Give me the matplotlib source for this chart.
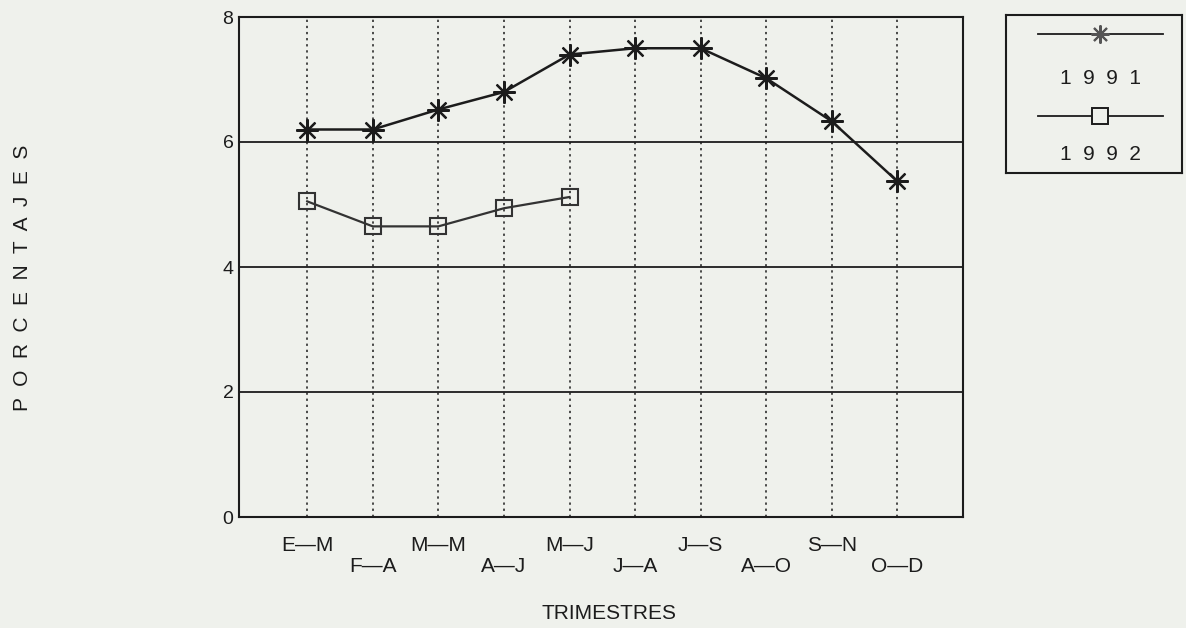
import matplotlib.pyplot as plt
import numpy as np

trimestres = ["E—M", "F—A", "M—M", "A—J", "M—J", "J—A", "J—S", "A—O", "S—N", "O—D"]
v1991 = [6.2, 6.2, 6.52, 6.8, 7.4, 7.5, 7.5, 7.02, 6.33, 5.37]
v1992 = [5.05, 4.65, 4.65, 4.94, 5.12]
yticks = [0, 2, 4, 6, 8]

bg = "#eff1ec"
ink = "#1c1c1c"
lab_font = ["Liberation Sans Narrow", "Liberation Sans", "DejaVu Sans"]

fig = plt.figure(figsize=(11.86, 6.28), dpi=100, facecolor=bg)
ax = fig.add_axes([239 / 1186, 1 - 517 / 628, (963 - 239) / 1186, 500 / 628])
ax.set_facecolor(bg)

x = np.arange(len(trimestres))
ax.set_xlim(-1.04, 10.0)
ax.set_ylim(0, 8)

for xi in x:
    ax.axvline(xi, color=ink, lw=1.1, ls=(0, (1.5, 2.5)), zorder=1)
for yv in yticks[1:-1]:
    ax.axhline(yv, color=ink, lw=1.3, zorder=1)

ax.plot(x, v1991, color=ink, lw=1.8, marker=(8, 2, 0), ms=16, mew=1.6, zorder=3)
ax.plot(x[:len(v1992)], v1992, color="#333333", lw=1.6, marker="s", ms=12,
        mfc="none", mew=1.5, zorder=3)

for s in ax.spines.values():
    s.set_color(ink)
    s.set_linewidth(1.5)

ax.set_yticks(yticks)
ax.set_yticklabels([str(v) for v in yticks], fontsize=14, family="Liberation Sans")
ax.set_xticks(x)
ax.set_xticklabels([])
ax.tick_params(length=0, pad=4, colors=ink)

for i, t in enumerate(trimestres):
    yy = -0.45 if i % 2 == 0 else -0.8
    ax.text(i, yy, t, ha="center", va="center", fontsize=15, family=lab_font,
            color=ink, clip_on=False)

ax.text(4.6, -1.55, "TRIMESTRES", ha="center", va="center", fontsize=15,
        family=lab_font, color=ink, clip_on=False)
fig.text(23 / 1186, 1 - 278 / 628, "P  O  R  C  E  N  T  A  J  E  S", rotation=90,
         ha="center", va="center", fontsize=15, family="Liberation Sans", color=ink)

# legend box
lg = fig.add_axes([1006 / 1186, 1 - 173 / 628, 176 / 1186, 158 / 628])
lg.set_facecolor(bg)
lg.set_xlim(0, 1)
lg.set_ylim(0, 1)
lg.set_xticks([])
lg.set_yticks([])
for s in lg.spines.values():
    s.set_color(ink)
    s.set_linewidth(1.5)
lg.plot([0.18, 0.89], [0.88, 0.88], color=ink, lw=1.3)
lg.plot([0.535], [0.88], color="#555555", marker=(8, 2, 0), ms=13, mew=1.5)
lg.text(0.535, 0.60, "1  9  9  1", ha="center", va="center", fontsize=15,
        family="Liberation Sans", color=ink)
lg.plot([0.18, 0.89], [0.36, 0.36], color=ink, lw=1.3)
lg.plot([0.535], [0.36], color=ink, marker="s", ms=11, mfc=bg, mew=1.4)
lg.text(0.535, 0.115, "1  9  9  2", ha="center", va="center", fontsize=15,
        family="Liberation Sans", color=ink)

fig.savefig("out.png", dpi=100, facecolor=bg)
